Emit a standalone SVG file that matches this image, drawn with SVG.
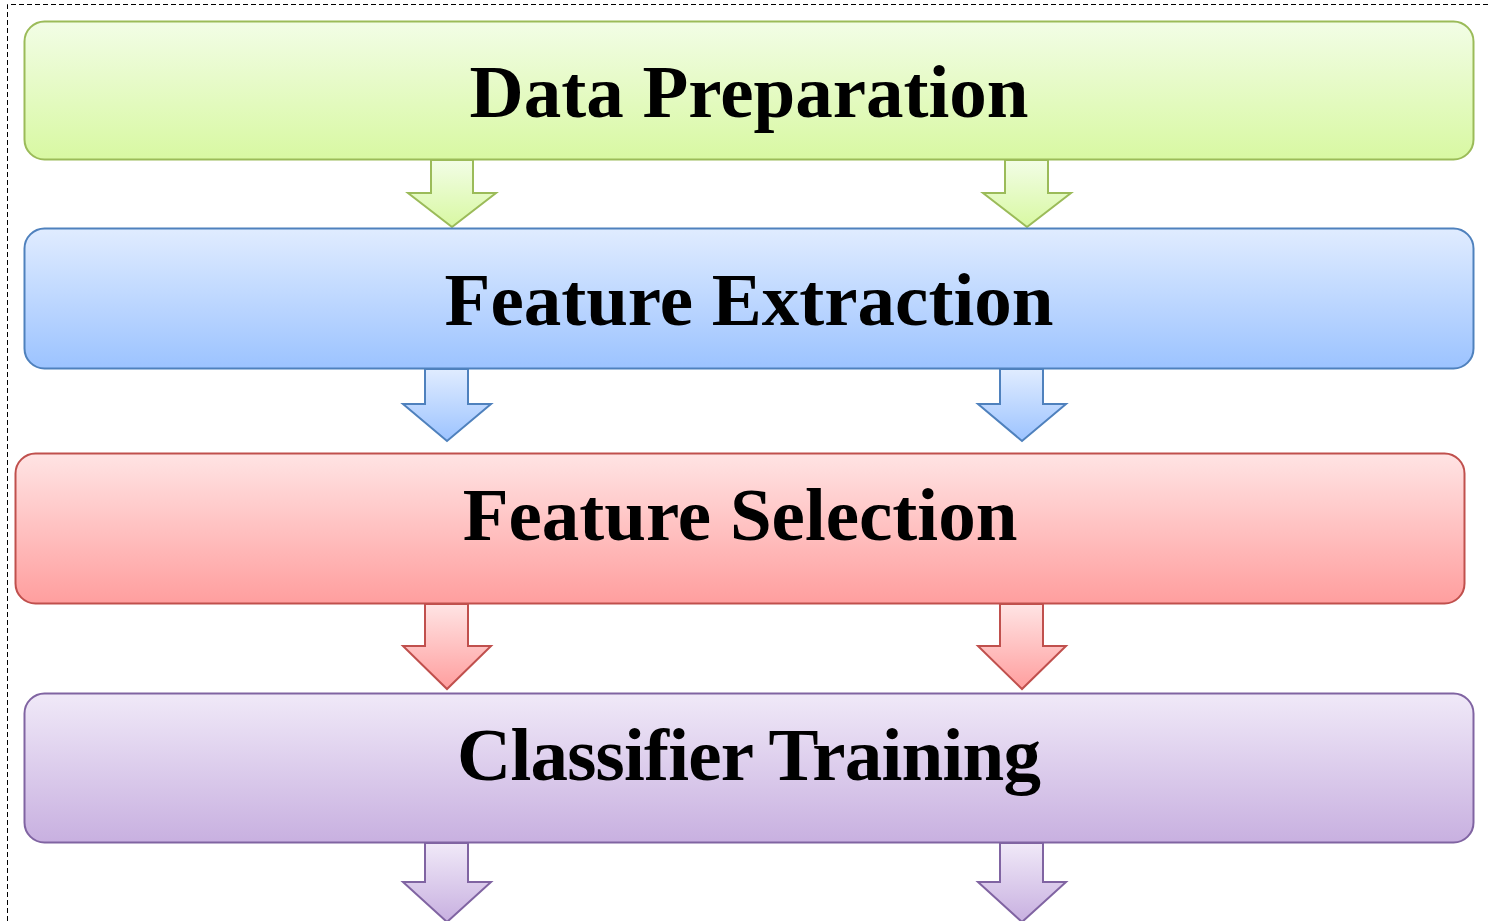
<svg xmlns="http://www.w3.org/2000/svg" width="1488" height="921" viewBox="0 0 1488 921">
<defs>
<linearGradient id="gG" x1="0" y1="0" x2="0" y2="1"><stop offset="0" stop-color="#F2FDE6"/><stop offset="1" stop-color="#D8F8A2"/></linearGradient>
<linearGradient id="gB" x1="0" y1="0" x2="0" y2="1"><stop offset="0" stop-color="#E0ECFF"/><stop offset="1" stop-color="#9CC3FF"/></linearGradient>
<linearGradient id="gR" x1="0" y1="0" x2="0" y2="1"><stop offset="0" stop-color="#FFE4E4"/><stop offset="1" stop-color="#FF9E9E"/></linearGradient>
<linearGradient id="gP" x1="0" y1="0" x2="0" y2="1"><stop offset="0" stop-color="#F0E9F8"/><stop offset="1" stop-color="#C8B0E0"/></linearGradient>
</defs>
<style>
.lbl{font-family:"Liberation Serif","Times New Roman",serif;font-weight:bold;font-size:75px;fill:#000;text-anchor:middle}
.box{stroke-width:2}
.arr{stroke-width:2;stroke-linejoin:miter}
.g{fill:url(#gG);stroke:#9BBB59}
.b{fill:url(#gB);stroke:#4F81BD}
.r{fill:url(#gR);stroke:#C0504D}
.p{fill:url(#gP);stroke:#8064A2}
</style>
<rect width="1488" height="921" fill="#fff"/>
<path d="M7.5,921 V4.5 H1488" fill="none" stroke="#000" stroke-width="1" stroke-dasharray="5,3"/>
<g id="connectors">
<path class="arr g" d="M431,160 H473 V193 H496 L452,227 L408,193 H431 Z"/>
<path class="arr g" d="M1005,160 H1048 V193 H1071 L1027,227 L983,193 H1005 Z"/>
<path class="arr b" d="M425,369 H468 V404 H491 L447,441 L403,404 H425 Z"/>
<path class="arr b" d="M1000,369 H1043 V404 H1066 L1022,441 L978,404 H1000 Z"/>
<path class="arr r" d="M425,604 H468 V646 H491 L447,689 L403,646 H425 Z"/>
<path class="arr r" d="M1000,604 H1043 V646 H1066 L1022,689 L978,646 H1000 Z"/>
<path class="arr p" d="M425,843 H468 V882 H491 L447,922 L403,882 H425 Z"/>
<path class="arr p" d="M1000,843 H1043 V882 H1066 L1022,922 L978,882 H1000 Z"/>
</g>
<g id="data-preparation">
<rect class="box g" x="24.5" y="21.5" width="1449" height="138" rx="20"/>
<text class="lbl" x="749" y="117">Data Preparation</text>
</g>
<g id="feature-extraction">
<rect class="box b" x="24.5" y="228.5" width="1449" height="140" rx="20"/>
<text class="lbl" x="749" y="325">Feature Extraction</text>
</g>
<g id="feature-selection">
<rect class="box r" x="15.5" y="453.5" width="1449" height="150" rx="20"/>
<text class="lbl" x="740" y="540">Feature Selection</text>
</g>
<g id="classifier-training">
<rect class="box p" x="24.5" y="693.5" width="1449" height="149" rx="20"/>
<text class="lbl" x="749" y="780" textLength="584" lengthAdjust="spacing">Classifier Training</text>
</g>
</svg>
